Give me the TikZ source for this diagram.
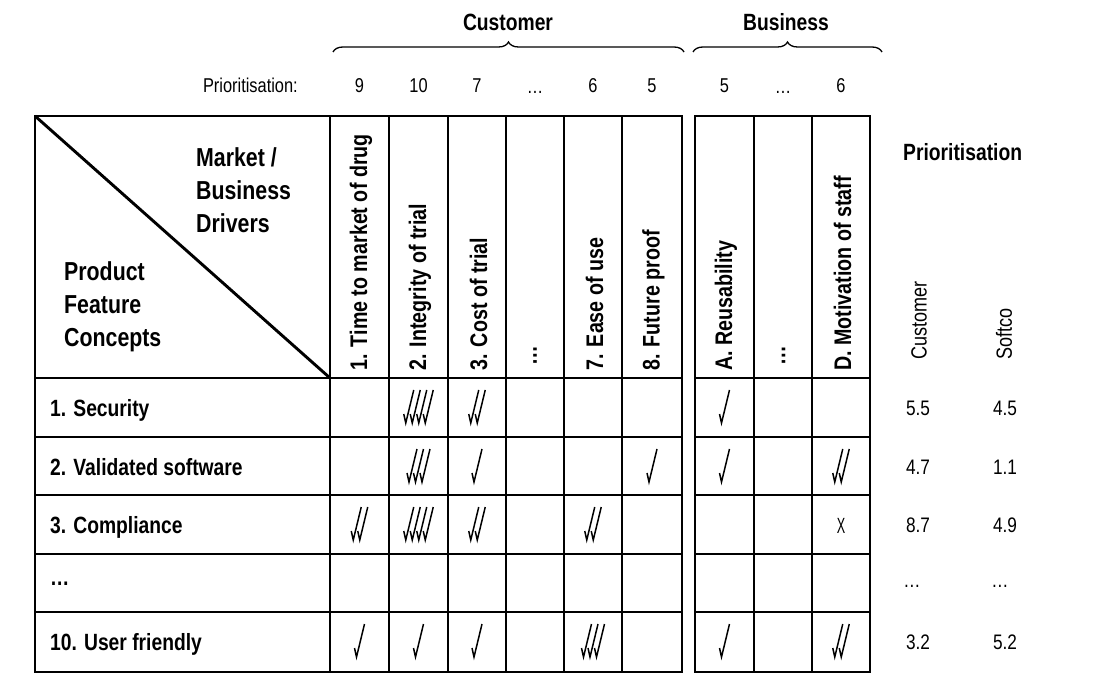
\documentclass[tikz,border=0pt]{standalone}
\usepackage{fontspec}
\setmainfont[FakeStretch=0.82]{Liberation Sans}
\usetikzlibrary{decorations.pathreplacing}
\newcommand\tickmarks[3]{%
  \pgfmathsetmacro\tkW{10+6.5*(#3-1)}%
  \foreach \i in {1,...,#3}{%
    \pgfmathsetmacro\bx{#1-\tkW/2+2+6.5*(\i-1)}%
    \draw[tickline] (\bx-2,#2+7) -- (\bx,#2+16) -- (\bx+8,#2-17);
  }%
}
\begin{document}
\begin{tikzpicture}[x=1pt,y=-1pt,
  gridline/.style={line width=2.9pt,line cap=rect},
  tickline/.style={line width=1.5pt,line join=miter},
  bracestyle/.style={line width=1.3pt,decorate,decoration={brace,amplitude=10pt}},
  title/.style={font=\fontsize{23.5}{28}\selectfont\bfseries,inner sep=0pt},
  corner/.style={font=\fontsize{26}{33}\selectfont\bfseries,inner sep=0pt,anchor=base west},
  collab/.style={font=\fontsize{24}{28}\selectfont\bfseries,inner sep=0pt,rotate=90,anchor=west},
  rowlab/.style={font=\fontsize{23.5}{28}\selectfont\bfseries,inner sep=0pt,anchor=base west},
  prio/.style={font=\fontsize{20}{24}\selectfont,inner sep=0pt,anchor=base},
  val/.style={font=\fontsize{21}{24}\selectfont,inner sep=0pt,anchor=base},
  sidelab/.style={font=\fontsize{22}{26}\selectfont,inner sep=0pt,rotate=90,anchor=west}]
\useasboundingbox (0,0) rectangle (1115,684);

% titles and braces
\node[title] (tcust) at (508,22) {Customer};
\node[title] (tbus) at (786,22) {Business};
\coordinate (bc1) at (333,52); \coordinate (bc2) at (684,52);
\coordinate (bb1) at (693,52); \coordinate (bb2) at (882,52);
\draw[bracestyle] (bc1) -- (bc2);
\draw[bracestyle] (bb1) -- (bb2);

% prioritisation row
\node[prio,anchor=base east] (plab) at (298,93) {Prioritisation:};
\node[prio] (p1) at (359.5,93) {9};
\node[prio] (p2) at (418.5,93) {10};
\node[prio] (p3) at (477,93) {7};
\node[prio] (p4) at (535,94) {\dots};
\node[prio] (p5) at (593,93) {6};
\node[prio] (p6) at (652,93) {5};
\node[prio] (p7) at (724.5,93) {5};
\node[prio] (p8) at (783,94) {\dots};
\node[prio] (p9) at (841,93) {6};

% grid block 1
\draw[gridline] (35,116) rectangle (682,672);
\foreach \x in {330,389,448,506,564,622} \draw[gridline] (\x,116) -- (\x,672);
\foreach \y in {378,437,495,554,612} \draw[gridline] (35,\y) -- (682,\y);
\draw[line width=2.9pt] (35,116) -- (330,378);
% grid block 2
\draw[gridline] (695,116) rectangle (870,672);
\foreach \x in {754,812} \draw[gridline] (\x,116) -- (\x,672);
\foreach \y in {378,437,495,554,612} \draw[gridline] (695,\y) -- (870,\y);

% corner labels
\node[corner] (m1) at (196,167) {Market /};
\node[corner] (m2) at (196,200) {Business};
\node[corner] (m3) at (196,233) {Drivers};
\node[corner] (f1) at (64,280) {Product};
\node[corner] (f2) at (64,313) {Feature};
\node[corner] (f3) at (64,346) {Concepts};

% column labels
\node[collab] (c1) at (361,371) {1. Time to market of drug};
\node[collab] (c2) at (420,371) {2. Integrity of trial};
\node[collab] (c3) at (478.5,371) {3. Cost of trial};
\node[collab] (c4) at (535,366) {\dots};
\node[collab] (c5) at (594.5,371) {7. Ease of use};
\node[collab] (c6) at (653.5,371) {8. Future proof};
\node[collab] (b1) at (726,371) {A. Reusability};
\node[collab] (b2) at (783.5,366) {\dots};
\node[collab] (b3) at (842.5,371) {D. Motivation of staff};

% row labels
\node[rowlab] (r1) at (50,416) {1. Security};
\node[rowlab] (r2) at (50,475) {2. Validated software};
\node[rowlab] (r3) at (50,533) {3. Compliance};
\node[rowlab] (r4) at (50,585) {\dots};
\node[rowlab] (r5) at (50,650) {10. User friendly};

% ticks: row 1
\tickmarks{418.5}{407}{4}
\tickmarks{477}{407}{2}
\tickmarks{724.5}{407}{1}
% row 2
\tickmarks{418.5}{466}{3}
\tickmarks{477}{466}{1}
\tickmarks{652}{466}{1}
\tickmarks{724.5}{466}{1}
\tickmarks{841}{466}{2}
% row 3
\tickmarks{359.5}{524}{2}
\tickmarks{418.5}{524}{4}
\tickmarks{477}{524}{2}
\tickmarks{593}{524}{2}
\node[font=\fontsize{22}{26}\selectfont,inner sep=0pt] (xmark) at (841,526) {\scalebox{0.7}[1]{X}};
% row 10
\tickmarks{359.5}{641}{1}
\tickmarks{418.5}{641}{1}
\tickmarks{477}{641}{1}
\tickmarks{593}{641}{3}
\tickmarks{724.5}{641}{1}
\tickmarks{841}{641}{2}

% right side prioritisation
\node[title,anchor=west] (rp) at (903,152) {Prioritisation};
\node[sidelab] (sc) at (919,360) {Customer};
\node[sidelab] (ss) at (1004,360) {Softco};
\node[val] (v11) at (918,415) {5.5};
\node[val] (v12) at (1005,415) {4.5};
\node[val] (v21) at (918,474) {4.7};
\node[val] (v22) at (1005,474) {1.1};
\node[val] (v31) at (918,532) {8.7};
\node[val] (v32) at (1005,532) {4.9};
\node[val] (v41) at (912,587) {\dots};
\node[val] (v42) at (1000,587) {\dots};
\node[val] (v51) at (918,649) {3.2};
\node[val] (v52) at (1005,649) {5.2};
\end{tikzpicture}
\end{document}
